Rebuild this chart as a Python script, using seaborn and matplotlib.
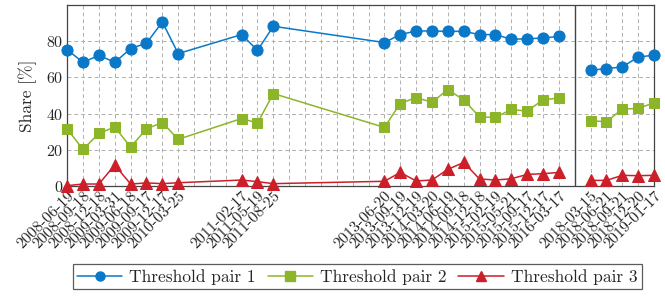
import numpy as np
import pandas as pd
import matplotlib
matplotlib.use('Agg')
import matplotlib.pyplot as plt
from matplotlib.lines import Line2D
import seaborn as sns

# Slot of each measurement on the (compressed) category axis
positions = [0, 1, 2, 3, 4, 5, 6, 7,
             11, 12, 13,
             20, 21, 22, 23, 24, 25, 26, 27, 28, 29, 30, 31,
             33, 34, 35, 36, 37]
dates = ['2008-06-19', '2008-09-18', '2008-12-18', '2009-03-31', '2009-06-18',
         '2009-09-17', '2009-12-17', '2010-03-25',
         '2011-02-17', '2011-05-19', '2011-08-25',
         '2013-06-20', '2013-09-19', '2013-12-19', '2014-03-20', '2014-06-19',
         '2014-09-18', '2014-12-18', '2015-02-19', '2015-05-21', '2015-09-17',
         '2015-12-17', '2016-03-17',
         '2018-03-15', '2018-06-21', '2018-09-21', '2018-12-20', '2019-01-17']
segment = [1] * 23 + [2] * 5

pair1 = [75.4, 68.3, 72.3, 68.3, 76.0, 78.9, 90.7, 73.2,
         83.7, 75.0, 88.3,
         79.3, 83.7, 85.7, 85.7, 85.5, 85.5, 83.7, 83.7, 81.1, 81.4, 81.8, 82.7,
         64.0, 64.9, 65.8, 71.3, 72.3]
pair2 = [31.6, 20.2, 29.1, 32.6, 21.5, 31.6, 35.1, 25.8,
         37.3, 34.8, 51.1,
         32.4, 45.6, 48.9, 46.3, 53.3, 47.6, 38.2, 37.9, 42.3, 41.4, 47.6, 48.7,
         36.0, 35.6, 42.5, 42.9, 46.0]
pair3 = [0.2, 1.1, 1.1, 11.6, 1.1, 1.7, 1.3, 1.8,
         3.3, 2.4, 1.3,
         2.6, 7.5, 2.8, 3.3, 9.2, 13.0, 3.9, 3.3, 4.0, 6.4, 6.8, 7.5,
         3.1, 3.1, 5.9, 5.7, 5.9]

series_names = ['Threshold pair 1', 'Threshold pair 2', 'Threshold pair 3']
colors = ['#0A78C8', '#8DB52A', '#CC1F2A']
markers = ['o', 's', '^']

df = pd.DataFrame({'pos': positions * 3,
                   'segment': segment * 3,
                   'share': pair1 + pair2 + pair3,
                   'series': np.repeat(series_names, len(positions))})

sns.set_style('white')
plt.rcParams['font.family'] = 'cmr10'
plt.rcParams['axes.formatter.use_mathtext'] = True

fig = plt.figure(figsize=(6.65, 3.0), dpi=100)
ax = fig.add_axes([0.101, 0.38, 0.8825, 0.603])

for name, col, mk in zip(series_names, colors, markers):
    for seg in [1, 2]:
        sub = df[(df.series == name) & (df.segment == seg)]
        sns.lineplot(data=sub, x='pos', y='share', ax=ax, color=col,
                     marker=mk, markersize=8 if mk != 's' else 7.5,
                     markeredgecolor=col, linewidth=1.1, legend=False,
                     clip_on=False, zorder=3)

ax.axvline(32, color='#444444', lw=1.0, zorder=2)

ax.set_xlim(0, 37)
ax.set_ylim(0, 100)
ticks = list(range(0, 38))
labels = [''] * 38
for p, d in zip(positions, dates):
    labels[p] = d
ax.set_xticks(ticks)
ax.set_xticklabels(labels, rotation=45, ha='right', rotation_mode='anchor',
                   fontsize=11.5)
ax.set_yticks([0, 20, 40, 60, 80])
ax.tick_params(axis='y', labelsize=11.5, length=0, pad=3)
ax.tick_params(axis='x', length=0, pad=2)
ax.set_xlabel('')
ax.set_ylabel('Share [%]', fontsize=12.5, labelpad=6)

ax.grid(True, color='#b0b0b0', linestyle=(0, (4, 3)), linewidth=0.7)
for s in ax.spines.values():
    s.set_color('#444444')
    s.set_linewidth(0.9)

# legend entries with smaller markers than the plot
handles = [Line2D([], [], color=c, marker=m, markersize=6.5, markeredgecolor=c,
                  linewidth=1.1) for c, m in zip(colors, markers)]
leg = fig.legend(handles, series_names, loc='lower center', ncol=3,
                 bbox_to_anchor=(0.537, 0.008), fontsize=12.5, frameon=True,
                 fancybox=False, edgecolor='#333333', handlelength=2.6,
                 handletextpad=0.4, columnspacing=0.7, borderpad=0.25)
leg.get_frame().set_linewidth(0.9)

fig.savefig('out.png', dpi=100)
